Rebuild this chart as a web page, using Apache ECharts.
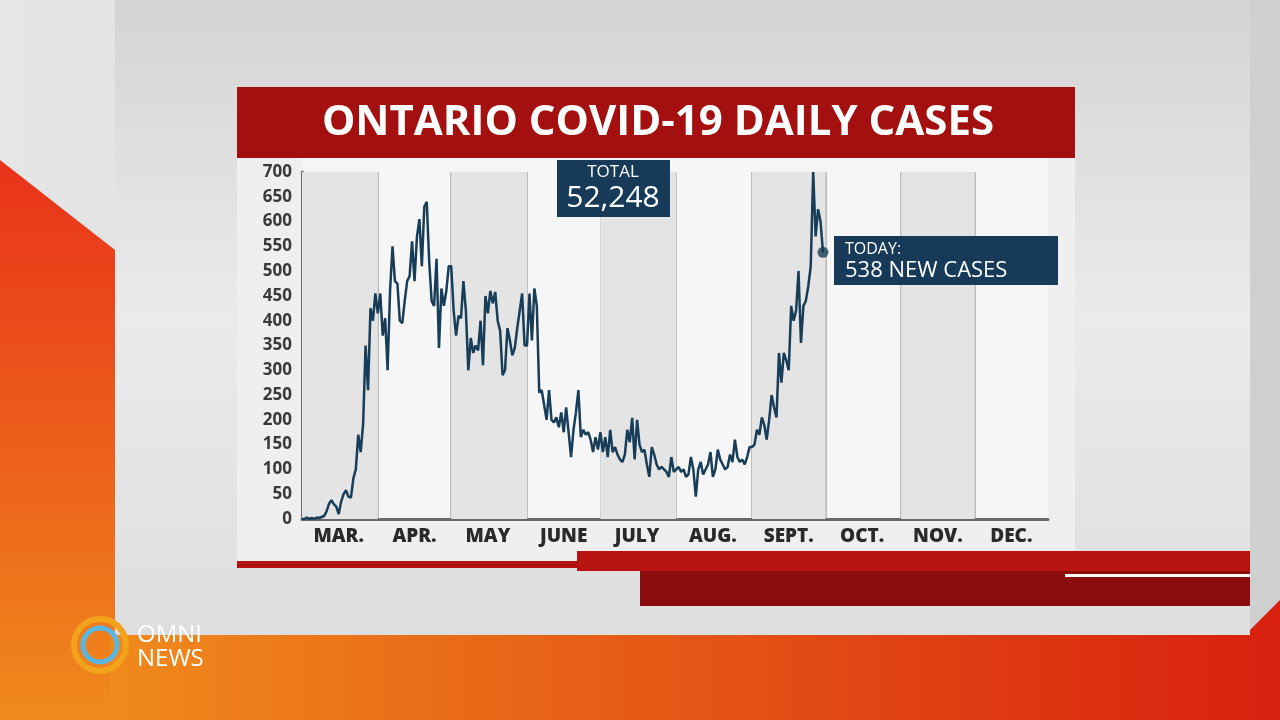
<!DOCTYPE html>
<html><head><meta charset="utf-8">
<script src="https://cdn.jsdelivr.net/npm/echarts@6/dist/echarts.min.js"></script>
<style>html,body{margin:0;padding:0;background:#ddd}#main{width:1280px;height:720px}</style>
</head><body><div id="main"></div>
<script>
// daily new cases, Ontario 2020
var months = ['MAR.', 'APR.', 'MAY', 'JUNE', 'JULY', 'AUG.', 'SEPT.', 'OCT.', 'NOV.', 'DEC.'];
var monthDays = [31, 30, 31, 30, 31, 31, 30, 31, 30, 31];
var mar = [0,0,3,0,2,0,3,2,4,6,15,30,38,30,25,10,35,50,58,45,43,82,100,170,135,193,350,260,425,400,455];
var apr = [415,455,370,405,300,460,550,480,475,400,395,440,480,490,560,480,570,605,510,630,640,520,440,430,525,345,465,430,460,510];
var may = [510,420,370,410,405,480,420,300,365,335,350,340,400,310,450,415,460,435,458,400,380,290,300,385,360,330,345,385,420,455,350];
var jun = [350,455,360,465,430,255,260,230,200,260,200,195,205,185,215,175,225,175,125,180,215,260,165,180,170,175,160,135,165,140];
var jul = [175,135,165,125,180,135,145,130,120,115,130,180,155,204,120,200,150,135,140,110,85,145,130,110,100,105,100,95,85,125,95];
var aug = [100,105,95,100,85,90,125,100,45,100,115,90,100,110,135,85,100,140,120,110,100,105,130,115,160,125,115,120,110,125,145];
var sep = [145,150,180,170,205,190,160,200,250,225,205,335,275,335,320,300,430,400,420,500,355,430,440,470,510,700,570,625,600,538];
var yTicks = [0, 50, 700];
var totalText = '52,248';
var todayText = '538 NEW CASES';

var cases = mar.concat(apr, may, jun, jul, aug, sep);
var days = [];
var monthStart = [];
monthDays.forEach(function (n, m) {
  monthStart.push(days.length);
  for (var d = 1; d <= n; d++) days.push((m + 3) + '-' + d);
});
var lastIdx = cases.length - 1;

var bands = [];
for (var m = 0; m < months.length; m += 2) {
  var endIdx = m + 1 < months.length ? monthStart[m + 1] : days.length - 1;
  bands.push([{ xAxis: days[monthStart[m]] }, { xAxis: days[endIdx] }]);
}

var myChart = echarts.init(document.getElementById('main'));
var F = '"Open Sans", sans-serif';
var option = {
  backgroundColor: '#d9d9d9',
  animation: false,
  graphic: [
    { type: 'rect', z: -10, shape: { x: 0, y: 0, width: 1280, height: 720 },
      style: { fill: new echarts.graphic.LinearGradient(0, 0, 1, 0, [{ offset: 0, color: '#e6e6e6' }, { offset: 1, color: '#cfcfcf' }]) } },
    { type: 'polygon', z: -9, shape: { points: [[0, 160], [115, 250], [115, 720], [0, 720]] },
      style: { fill: new echarts.graphic.LinearGradient(0, 0, 0, 1, [{ offset: 0, color: '#e8321a' }, { offset: 1, color: '#f08a1c' }]) } },
    { type: 'polygon', z: -9, shape: { points: [[110, 630], [1250, 630], [1280, 600], [1280, 720], [110, 720]] },
      style: { fill: new echarts.graphic.LinearGradient(0, 0, 1, 0, [{ offset: 0, color: '#f08a1c' }, { offset: 1, color: '#d8200f' }]) } },
    { type: 'rect', z: -8, shape: { x: 115, y: 0, width: 1135, height: 635 },
      style: { fill: new echarts.graphic.LinearGradient(0, 0, 0, 1, [{ offset: 0, color: '#d4d4d4' }, { offset: 0.5, color: '#ebebeb' }, { offset: 1, color: '#dedede' }]) } },
    { type: 'rect', z: -7, shape: { x: 237, y: 158, width: 838, height: 407 }, style: { fill: '#efefef' } },
    { type: 'rect', z: -6, shape: { x: 302, y: 158, width: 746, height: 16 }, style: { fill: '#f6f6f6' } },
    { type: 'rect', z: -6, shape: { x: 237, y: 561, width: 350, height: 7 }, style: { fill: '#b01010' } },
    { type: 'rect', z: -6, shape: { x: 577, y: 551, width: 673, height: 20 }, style: { fill: '#b8140f' } },
    { type: 'rect', z: -6, shape: { x: 640, y: 571, width: 610, height: 35 }, style: { fill: '#8a0c0c' } },
    { type: 'rect', z: -5, shape: { x: 1065, y: 574, width: 185, height: 3 }, style: { fill: '#ffffff' } },
    { type: 'rect', z: 5, shape: { x: 237, y: 87, width: 838, height: 71 }, style: { fill: '#a3100f' } },
    { type: 'text', z: 6, x: 658, y: 123, style: { text: 'ONTARIO COVID-19 DAILY CASES', fill: '#fff', font: '700 42px ' + F, align: 'center', verticalAlign: 'middle' } },
    { type: 'rect', z: 6, shape: { x: 557, y: 160, width: 113, height: 57 }, style: { fill: '#163a57' } },
    { type: 'text', z: 7, x: 613, y: 172, style: { text: 'TOTAL', fill: '#fff', font: '17px ' + F, align: 'center', verticalAlign: 'middle' } },
    { type: 'text', z: 7, x: 613, y: 198, style: { text: totalText, fill: '#fff', font: '30px ' + F, align: 'center', verticalAlign: 'middle' } },
    { type: 'rect', z: 6, shape: { x: 834, y: 236, width: 224, height: 49 }, style: { fill: '#163a57' } },
    { type: 'text', z: 7, x: 845, y: 249, style: { text: 'TODAY:', fill: '#fff', font: '16px ' + F, verticalAlign: 'middle' } },
    { type: 'text', z: 7, x: 845, y: 271, style: { text: todayText, fill: '#fff', font: '22px ' + F, verticalAlign: 'middle' } },
    { type: 'circle', z: 6, shape: { cx: 100, cy: 645, r: 26 }, style: { fill: 'none', stroke: '#f2a21b', lineWidth: 6 } },
    { type: 'circle', z: 6, shape: { cx: 100, cy: 645, r: 17 }, style: { fill: 'none', stroke: '#59b6e0', lineWidth: 5 } },
    { type: 'text', z: 7, x: 137, y: 635, style: { text: 'OMNI', fill: '#fff', font: '24px ' + F, verticalAlign: 'middle' } },
    { type: 'text', z: 7, x: 137, y: 659, style: { text: 'NEWS', fill: '#fff', font: '24px ' + F, verticalAlign: 'middle' } }
  ],
  grid: { left: 302, right: 232, top: 172, bottom: 201, backgroundColor: '#f6f6f6', show: true, borderWidth: 0 },
  xAxis: {
    type: 'category', data: days, boundaryGap: false,
    axisLine: { lineStyle: { color: '#6a6a6a', width: 3 } },
    axisTick: { show: false },
    axisLabel: {
      interval: function (i) { return monthStart.indexOf(i - 15) >= 0; },
      formatter: function (v, i) { return months[monthStart.indexOf(i - 15)] || ''; },
      color: '#2a2a2a', fontFamily: F, fontWeight: 800, fontSize: 19, margin: 8
    },
    splitLine: { show: true, interval: function (i) { return monthStart.indexOf(i) > 0; }, lineStyle: { color: '#a8a8a8', width: 1.5 } }
  },
  yAxis: {
    type: 'value', min: yTicks[0], max: yTicks[2], interval: yTicks[1],
    axisLine: { show: true, lineStyle: { color: '#6a6a6a', width: 3 } },
    axisTick: { show: false }, splitLine: { show: false },
    axisLabel: { color: '#3a3a3a', fontFamily: F, fontWeight: 700, fontSize: 17, margin: 10 }
  },
  series: [
    { type: 'line', data: cases, symbol: 'none', lineStyle: { color: '#173d58', width: 2.5 },
      markArea: { silent: true, itemStyle: { color: '#e4e4e4' }, data: bands } },
    { type: 'scatter', data: [[days[lastIdx], cases[lastIdx]]], symbolSize: 11, itemStyle: { color: '#173d58' } }
  ]
};
myChart.setOption(option);
</script></body></html>
